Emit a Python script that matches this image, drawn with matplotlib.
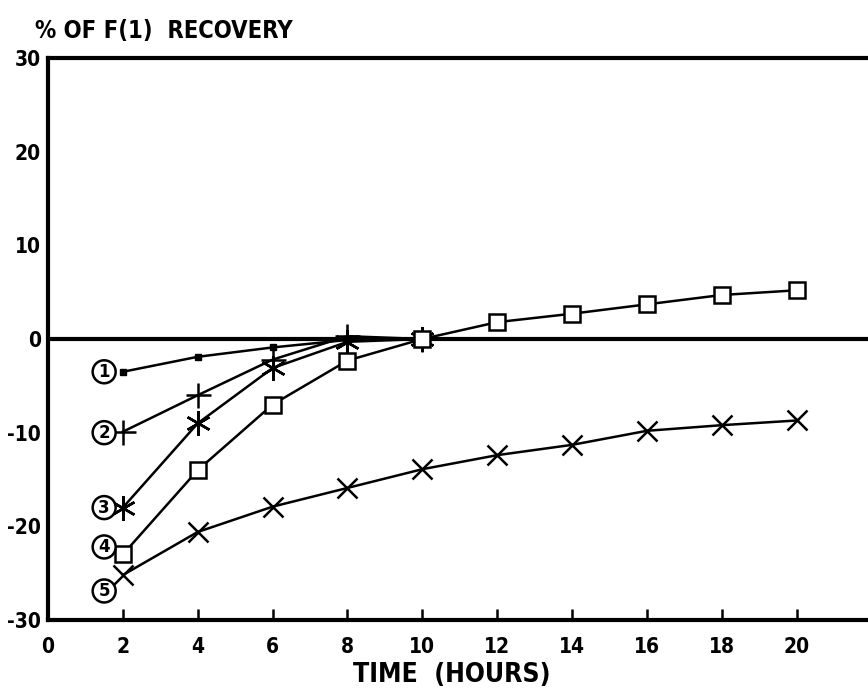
import matplotlib
matplotlib.use("Agg")
import matplotlib.pyplot as plt

hours = [2, 4, 6, 8, 10, 12, 14, 16, 18, 20]
s1 = [-3.5, -1.9, -0.9, -0.1, 0.0]
s2 = [-9.9, -6.0, -2.2, 0.3, 0.0]
s3 = [-18.0, -9.0, -3.1, -0.3, 0.0]
s4 = [-23.0, -14.0, -7.0, -2.3, 0.0, 1.8, 2.7, 3.7, 4.7, 5.2]
s5 = [-25.2, -20.6, -17.9, -15.9, -13.9, -12.4, -11.3, -9.8, -9.2, -8.7]
labels = ["1", "2", "3", "4", "5"]
label_y = [-3.5, -10.0, -18.0, -22.2, -26.9]
xticks = [0, 2, 4, 6, 8, 10, 12, 14, 16, 18, 20]
yticks = [-30, -20, -10, 0, 10, 20, 30]

font = dict(family="DejaVu Sans", stretch="condensed", weight="bold")

fig = plt.figure(figsize=(8.68, 6.93), dpi=100)
ax = fig.add_axes([48/868, 73/693, 1 - 48/868 + 0.002, (620-58)/693])
ax.set_xlim(0, 21.95)
ax.set_ylim(-30, 30)

ax.axhline(0, color="black", lw=3.0, zorder=1)

kw = dict(color="black", lw=1.8, zorder=3)
ax.plot(hours[:5], s1, marker="s", ms=5, **kw)
ax.plot(hours[:5], s2, marker="+", ms=18, mew=1.8, **kw)
ax.plot(hours[:5], s3, marker=(6, 2, 0), ms=18, mew=1.8, **kw)
ax.plot(hours, s4, marker="s", ms=12, mfc="white", mew=1.8, **kw)
ax.plot(hours, s5, marker="x", ms=14, mew=1.8, **kw)

for lab, yy in zip(labels, label_y):
    ax.text(1.5, yy, lab, ha="center", va="center", fontsize=12, fontweight="bold",
            bbox=dict(boxstyle="circle,pad=0.15", fc="white", ec="black", lw=1.8), zorder=4)

for side in ["left", "bottom", "top"]:
    ax.spines[side].set_linewidth(3.0)
ax.spines["right"].set_visible(False)

ax.set_xticks(xticks)
ax.set_xticklabels([str(t) for t in xticks], fontsize=15, **font)
ax.set_yticks(yticks)
ax.set_yticklabels([str(t) for t in yticks], fontsize=15, **font)
ax.tick_params(axis="x", direction="in", length=8, width=1.8, pad=12)
ax.tick_params(axis="y", length=0, pad=5)
ax.xaxis.get_major_ticks()[0].tick1line.set_visible(False)

fig.text(452/868, 1 - 675/693, "TIME  (HOURS)", fontsize=19, ha="center", va="center", **font)
fig.text(35/868, 1 - 31/693, "% OF F(1)  RECOVERY", fontsize=17, ha="left", va="center", **font)

fig.savefig("out.png", dpi=100)
